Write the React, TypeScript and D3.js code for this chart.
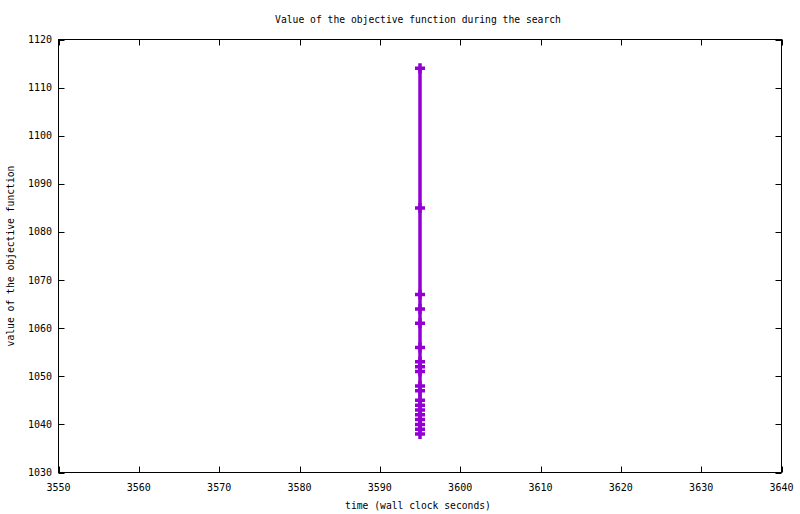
import { useEffect, useRef } from 'react';
import * as d3 from 'd3';

// time of each improvement (wall clock seconds)
const times = [
  3595, 3595, 3595, 3595, 3595, 3595, 3595, 3595, 3595, 3595, 3595,
  3595, 3595, 3595, 3595, 3595, 3595, 3595, 3595,
];
// objective value at each improvement
const values = [
  1114, 1085, 1067, 1064, 1061, 1056, 1053, 1052, 1051, 1048, 1047,
  1045, 1044, 1043, 1042, 1041, 1040, 1039, 1038,
];
const xTicks = [3550, 3560, 3570, 3580, 3590, 3600, 3610, 3620, 3630, 3640];
const yTicks = [1030, 1040, 1050, 1060, 1070, 1080, 1090, 1100, 1110, 1120];

const App = () => {
  const svgRef = useRef<SVGSVGElement>(null);

  useEffect(() => {
    if (!svgRef.current) return;
    const svg = d3.select(svgRef.current);
    svg.selectAll('*').remove();

    const left = 58.5;
    const right = 781.5;
    const top = 39.5;
    const bottom = 472.5;
    const font = '"DejaVu Sans Mono", monospace';
    const color = '#9400d3';

    const x = d3.scaleLinear().domain([3550, 3640]).range([left, right]);
    const y = d3.scaleLinear().domain([1030, 1120]).range([bottom, top]);

    svg.append('rect')
      .attr('width', 800)
      .attr('height', 514)
      .attr('fill', 'white');

    // ticks (inward, mirrored)
    xTicks.forEach(t => {
      svg.append('line')
        .attr('x1', Math.round(x(t)) + 0.5).attr('x2', Math.round(x(t)) + 0.5)
        .attr('y1', bottom).attr('y2', bottom - 6)
        .attr('stroke', 'black');
      svg.append('line')
        .attr('x1', Math.round(x(t)) + 0.5).attr('x2', Math.round(x(t)) + 0.5)
        .attr('y1', top).attr('y2', top + 6)
        .attr('stroke', 'black');
      svg.append('text')
        .attr('x', x(t))
        .attr('y', 491)
        .attr('text-anchor', 'middle')
        .attr('font-family', font)
        .attr('font-size', '10px')
        .text(t);
    });
    yTicks.forEach(t => {
      svg.append('line')
        .attr('x1', left).attr('x2', left + 6)
        .attr('y1', Math.round(y(t)) + 0.5).attr('y2', Math.round(y(t)) + 0.5)
        .attr('stroke', 'black');
      svg.append('line')
        .attr('x1', right).attr('x2', right - 6)
        .attr('y1', Math.round(y(t)) + 0.5).attr('y2', Math.round(y(t)) + 0.5)
        .attr('stroke', 'black');
      svg.append('text')
        .attr('x', 52)
        .attr('y', y(t) + 3.5)
        .attr('text-anchor', 'end')
        .attr('font-family', font)
        .attr('font-size', '10px')
        .text(t);
    });

    svg.append('rect')
      .attr('x', left).attr('y', top)
      .attr('width', right - left).attr('height', bottom - top)
      .attr('fill', 'none')
      .attr('stroke', 'black');

    // series: lines + points
    const pts = times.map((t, i) => [x(t), y(values[i])] as [number, number]);
    svg.append('path')
      .attr('d', d3.line()(pts))
      .attr('fill', 'none')
      .attr('stroke', color)
      .attr('stroke-width', 3.5);
    pts.forEach(([px, py]) => {
      svg.append('path')
        .attr('d', `M${px - 5},${py}H${px + 5}M${px},${py - 5}V${py + 5}`)
        .attr('stroke', color)
        .attr('stroke-width', 3.5);
    });

    svg.append('text')
      .attr('x', 418)
      .attr('y', 23)
      .attr('text-anchor', 'middle')
      .attr('font-family', font)
      .attr('font-size', '9.7px')
      .text('Value of the objective function during the search');

    svg.append('text')
      .attr('x', 418)
      .attr('y', 509)
      .attr('text-anchor', 'middle')
      .attr('font-family', font)
      .attr('font-size', '9.7px')
      .text('time (wall clock seconds)');

    svg.append('text')
      .attr('transform', 'translate(14,256) rotate(-90)')
      .attr('text-anchor', 'middle')
      .attr('font-family', font)
      .attr('font-size', '9.7px')
      .text('value of the objective function');
  }, []);

  return (
    <svg
      ref={svgRef}
      width="800"
      height="514"
      style={{ position: 'absolute', left: 0, top: 0 }}
    />
  );
};

export default App;
